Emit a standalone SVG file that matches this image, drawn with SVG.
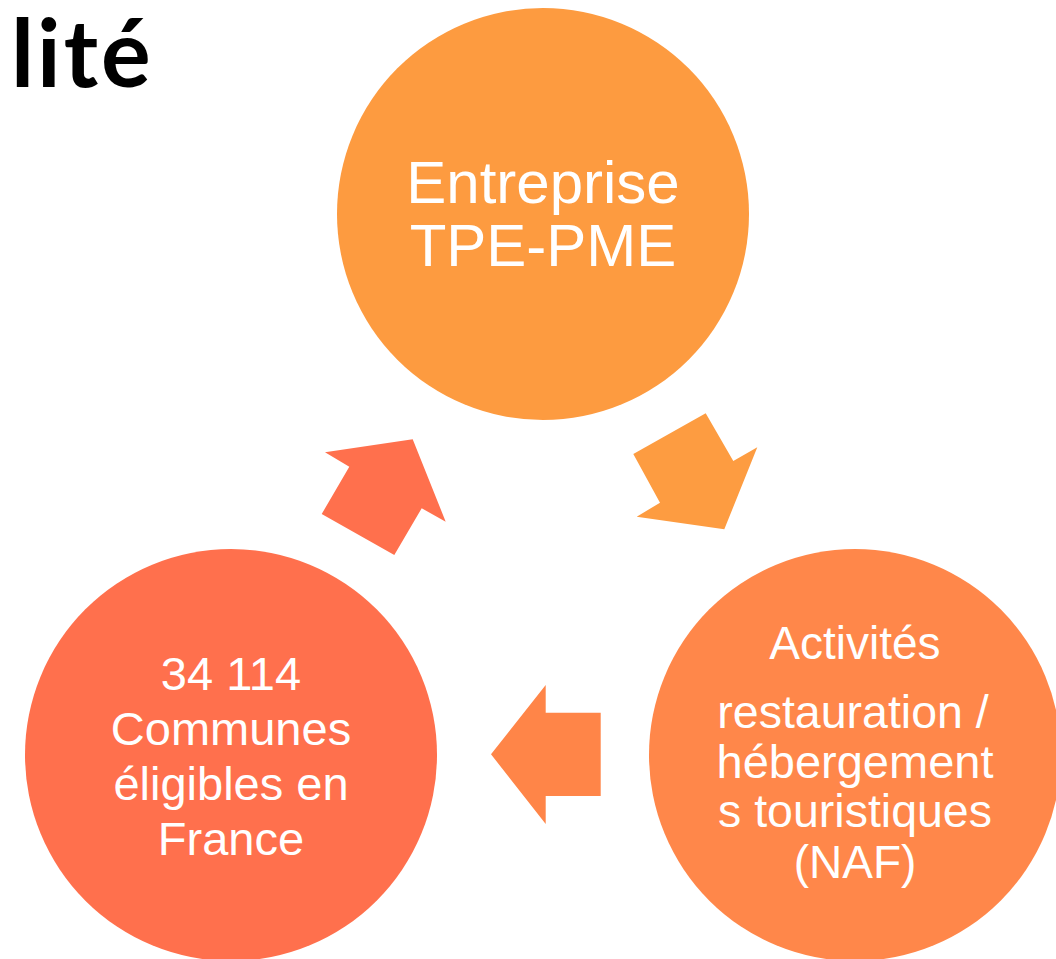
<svg xmlns="http://www.w3.org/2000/svg" width="1056" height="959" viewBox="0 0 1056 959">
<style>
.t{font-family:"Liberation Sans",Arial,sans-serif;fill:#ffffff;text-anchor:middle}
</style>
<rect width="1056" height="959" fill="#ffffff"/>
<text x="11" y="87" font-family="Lato, 'Liberation Sans', sans-serif" font-weight="700" font-size="93" letter-spacing="3" fill="#000000">lité</text>
<g id="connectors">
<polygon points="705.7,413.3 733.3,461 757.3,447.3 724.3,529.3 636.7,516.7 660,502.7 633.3,454" fill="#FD9C41"/>
<polygon points="491,754.3 545.7,685 545.7,712.7 600.7,712.7 600.7,796 545.7,796 545.7,824" fill="#FF8548"/>
<polygon points="412.7,439.3 445.7,521.7 421.7,508.3 394.3,555 321.7,514 349.3,466.7 325,452.3" fill="#FF704D"/>
</g>
<g id="node-entreprise">
<circle cx="543" cy="214" r="206" fill="#FD9B40"/>
<text class="t" x="543" y="203" font-size="60">Entreprise</text>
<text class="t" x="543" y="266" font-size="60">TPE-PME</text>
</g>
<g id="node-activites">
<circle cx="855" cy="755" r="206" fill="#FF874A"/>
<text class="t" x="855" y="659" font-size="46">Activités</text>
<text class="t" x="853" y="728" font-size="46.5">restauration /</text>
<text class="t" x="855" y="778" font-size="47">hébergement</text>
<text class="t" x="855" y="827" font-size="46.5">s touristiques</text>
<text class="t" x="855" y="878" font-size="46">(NAF)</text>
</g>
<g id="node-communes">
<circle cx="231" cy="755" r="206" fill="#FF704D"/>
<text class="t" x="231" y="690" font-size="47">34 114</text>
<text class="t" x="231" y="745" font-size="47">Communes</text>
<text class="t" x="231" y="800" font-size="47">éligibles en</text>
<text class="t" x="231" y="855" font-size="47">France</text>
</g>
</svg>
